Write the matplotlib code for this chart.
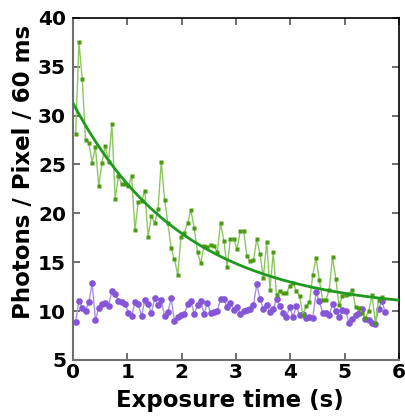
import numpy as np
import matplotlib
matplotlib.use("Agg")
import matplotlib.pyplot as plt

# sampling grid (one frame every ~60 ms)
t_start = 0.051
t_step = 0.0606

green_counts = [
    28.1, 37.5, 33.7, 27.5, 27.2, 25.2, 26.8, 22.8, 25.2, 26.9,
    25.3, 29.1, 21.5, 23.8, 23.0, 23.0, 22.8, 23.8, 18.3, 21.2,
    21.3, 22.3, 17.6, 19.7, 19.0, 20.4, 25.3, 21.4, 19.0, 16.4,
    15.3, 13.7, 17.6, 18.0, 19.0, 20.3, 18.5, 16.0, 14.9, 16.7,
    16.6, 16.8, 16.7, 16.0, 19.0, 17.2, 14.5, 17.4, 17.4, 16.3,
    18.2, 18.2, 15.6, 15.1, 15.2, 17.4, 15.8, 13.4, 17.1, 12.2,
    16.0, 11.6, 12.1, 11.8, 11.8, 12.6, 12.9, 12.1, 11.5, 9.6,
    10.5, 10.9, 13.7, 15.4, 13.2, 11.1, 11.1, 12.2, 15.5, 13.3,
    10.6, 11.5, 11.6, 11.7, 12.2, 10.4, 10.3, 9.8, 9.3, 10.0,
    11.6, 8.8, 11.1, 11.4,
]

purple_counts = [
    8.86, 11.05, 10.3, 10.05, 10.9, 12.85, 9.1, 10.3, 10.7, 10.85,
    10.5, 12.06, 11.7, 11.07, 10.9, 10.75, 9.8, 9.45, 10.9, 10.7,
    9.5, 11.1, 10.7, 9.8, 11.3, 10.6, 11.1, 9.5, 9.85, 11.3,
    9.0, 9.4, 9.6, 9.67, 10.73, 11.07, 9.67, 10.6, 11.07, 9.67,
    10.87, 9.78, 9.9, 10.0, 11.2, 11.2, 10.4, 10.87, 10.1, 10.45,
    9.67, 10.0, 10.1, 10.2, 10.6, 12.75, 11.2, 10.2, 10.66, 9.9,
    10.2, 11.2, 10.5, 9.8, 9.4, 10.4, 9.4, 10.5, 9.6, 9.7,
    9.26, 9.4, 9.26, 11.9, 11.0, 9.8, 9.75, 9.6, 10.7, 9.98,
    9.35, 10.1, 10.0, 8.8, 9.2, 9.55, 9.8, 10.2, 9.2, 9.1,
    8.8, 8.7, 10.2, 11.07, 9.85,
]

# exponential fit parameters: offset + amplitude * exp(-t / tau)
fit_offset = 10.0
fit_amplitude = 21.3
fit_tau = 2.03

x_ticks = [0, 1, 2, 3, 4, 5, 6]
y_ticks = [5, 10, 15, 20, 25, 30, 35, 40]

t_green = t_start + t_step * np.arange(len(green_counts))
t_purple = t_start + t_step * np.arange(len(purple_counts))
t_fit = np.linspace(0, 6, 300)
fit_curve = fit_offset + fit_amplitude * np.exp(-t_fit / fit_tau)

plt.rcParams['font.family'] = ['DejaVu Sans']

fig = plt.figure(figsize=(4.05, 4.17), dpi=100)
ax = fig.add_axes([0.180, 0.137, 0.805, 0.820])

ax.plot(t_purple, purple_counts, color='#a892e4', lw=1.0, zorder=2)
ax.plot(t_purple, purple_counts, 'o', color='#8557d8', ms=4.8, mec='none', zorder=3)

ax.plot(t_green, green_counts, color='#8cc860', lw=1.0, zorder=4)
ax.plot(t_green, green_counts, 's', color='#4a9a12', ms=2.3, mec='none', zorder=5)

ax.plot(t_fit, fit_curve, color='#1f9a1f', lw=2.0, zorder=6)

ax.set_xlim(0, 6)
ax.set_ylim(5, 40)
ax.set_xticks(x_ticks)
ax.set_yticks(y_ticks)
ax.tick_params(direction='in', length=5, width=1.2, top=True, right=True,
               labelsize=14.5, colors='#555555', labelcolor='black')
ax.tick_params(axis='y', pad=5)
ax.tick_params(axis='x', pad=2)
for lab in ax.get_xticklabels() + ax.get_yticklabels():
    lab.set_fontweight('bold')

for side in ['left', 'bottom']:
    ax.spines[side].set_color('#707070')
    ax.spines[side].set_linewidth(1.5)
for side in ['top', 'right']:
    ax.spines[side].set_color('black')
    ax.spines[side].set_linewidth(1.2)

ax.set_xlabel('Exposure time (s)', fontsize=16.5, fontweight='bold', labelpad=5)
ax.set_ylabel('Photons / Pixel / 60 ms', fontsize=16.5, fontweight='bold', labelpad=2)
ax.xaxis.label.set_x(0.48)
ax.yaxis.label.set_y(0.55)

fig.savefig('out.png', dpi=100)
